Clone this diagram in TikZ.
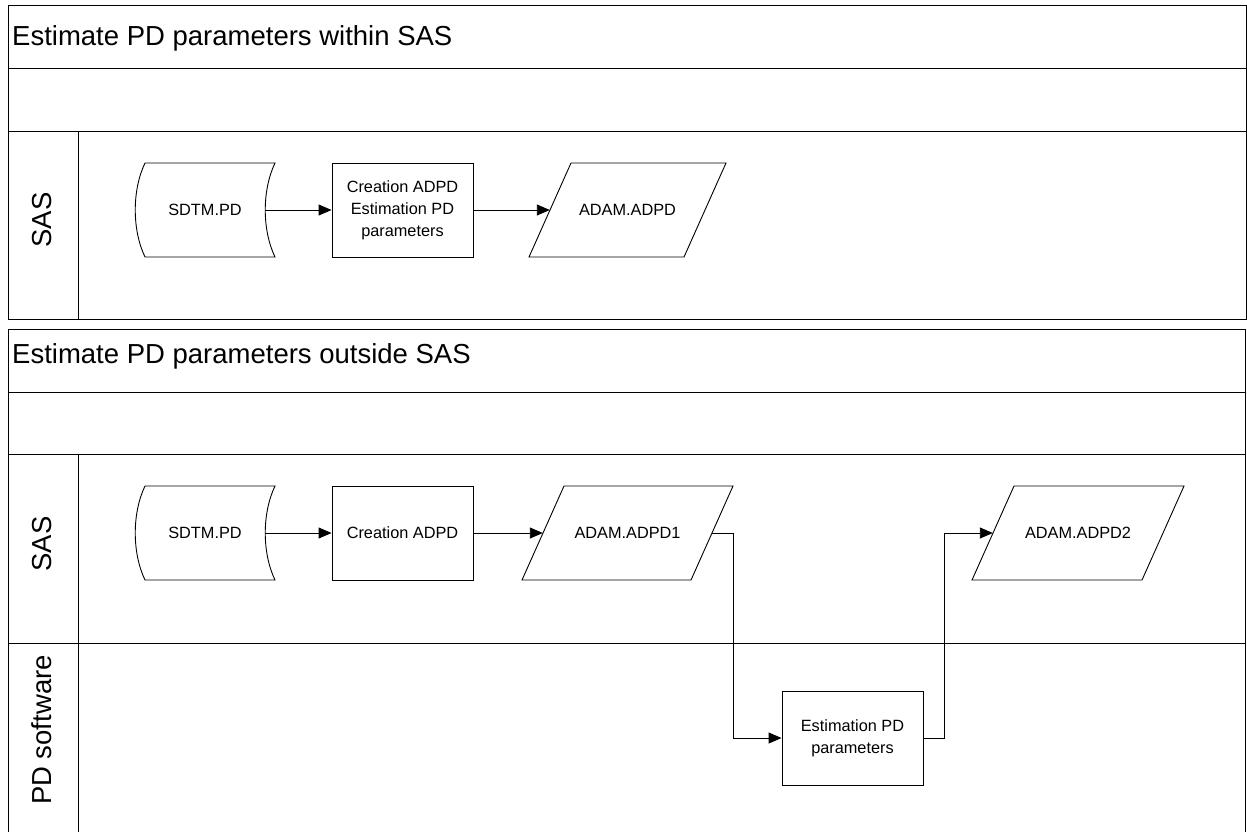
\documentclass[tikz,border=0pt]{standalone}
\usepackage{fontspec}
\setmainfont{Liberation Sans}
\usetikzlibrary{arrows.meta}
\begin{document}
\begin{tikzpicture}[x=1pt,y=-1pt,
  poolline/.style={line width=1pt, draw=black},
  titletxt/.style={font=\fontsize{27.5}{32}\selectfont, inner sep=0, anchor=base west},
  lanetxt/.style={font=\fontsize{27.5}{32}\selectfont, inner sep=0, rotate=90},
  base/.style={font=\fontsize{16.3}{21.8}\selectfont, align=center, inner sep=0, minimum height=94},
  procbox/.style={base, draw, line width=0.9pt, minimum width=141},
  datashape/.style={base},
  shapeline/.style={line width=0.9pt, line join=miter},
  flow/.style={line width=0.9pt, -{Triangle[length=13pt,width=11pt]}},
  plainflow/.style={line width=0.9pt}
]
\useasboundingbox (0,0) rectangle (1247,831);
\fill[white] (0,0) rectangle (1247,831);

% ---- top pool ----
\draw[poolline] (8,5) rectangle (1246,319);
\draw[poolline] (8,68) -- (1246,68);
\draw[poolline] (8,131) -- (1246,131);
\draw[poolline] (78,131) -- (78,319);
\node[titletxt] (t1) at (12,45) {Estimate PD parameters within SAS};
\node[lanetxt] (l1) at (42,220) {SAS};

% ---- bottom pool ----
\draw[poolline] (8,329) rectangle (1245.5,832);
\draw[poolline] (8,392) -- (1245.5,392);
\draw[poolline] (8,454) -- (1245.5,454);
\draw[poolline] (8,643) -- (1245.5,643);
\draw[poolline] (78,454) -- (78,832);
\node[titletxt] (t2) at (12,363) {Estimate PD parameters outside SAS};
\node[lanetxt] (l2) at (42,544) {SAS};
\node[lanetxt] (l3) at (42,730) {PD software};

% ---- top pool shapes ----
\node[datashape, minimum width=120] (sd1) at (205,210) {SDTM.PD};
\draw[shapeline, shift={(sd1.center)}] (-60,-47) -- (70,-47)
  .. controls (57,-20) and (57,20) .. (70,47) -- (-60,47)
  .. controls (-73,20) and (-73,-20) .. cycle;
\node[procbox] (p1) at (402.5,210) {Creation ADPD\\Estimation PD\\parameters};
\node[datashape, minimum width=155] (d1) at (627.5,210) {ADAM.ADPD};
\draw[shapeline, shift={(d1.center)}] (-56.5,-47) -- (98.5,-47) -- (56.5,47) -- (-98.5,47) -- cycle;
\draw[flow] (sd1.east) -- (p1.west);
\draw[flow] (p1.east) -- (d1.west);

% ---- bottom pool shapes ----
\node[datashape, minimum width=120] (sd2) at (205,533) {SDTM.PD};
\draw[shapeline, shift={(sd2.center)}] (-60,-47) -- (70,-47)
  .. controls (57,-20) and (57,20) .. (70,47) -- (-60,47)
  .. controls (-73,20) and (-73,-20) .. cycle;
\node[procbox] (p2) at (402.5,533) {Creation ADPD};
\node[datashape, minimum width=169] (d2) at (627.5,533) {ADAM.ADPD1};
\draw[shapeline, shift={(d2.center)}] (-63.5,-47) -- (105.5,-47) -- (63.5,47) -- (-105.5,47) -- cycle;
\node[procbox] (est) at (852.5,738) {Estimation PD\\parameters};
\node[datashape, minimum width=170] (d3) at (1078,533) {ADAM.ADPD2};
\draw[shapeline, shift={(d3.center)}] (-64,-47) -- (106,-47) -- (64,47) -- (-106,47) -- cycle;

\draw[flow] (sd2.east) -- (p2.west);
\draw[flow] (p2.east) -- (d2.west);
\draw[flow] (d2.east) -- ++(21,0) |- (est.west);
\draw[flow] (est.east) -- ++(21,0) |- (d3.west);
\end{tikzpicture}
\end{document}
